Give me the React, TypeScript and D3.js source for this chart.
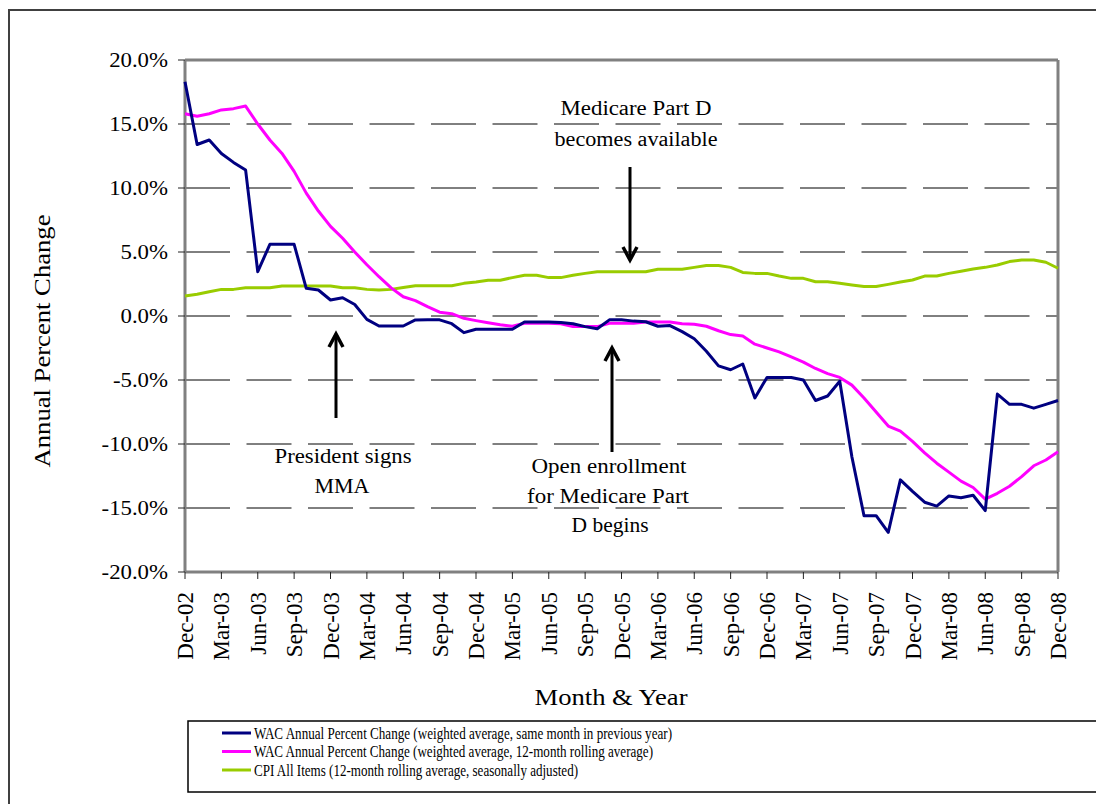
import React from "react";
import * as d3 from "d3";

const monthLabels = ["Dec-02","Mar-03","Jun-03","Sep-03","Dec-03","Mar-04","Jun-04","Sep-04","Dec-04","Mar-05","Jun-05","Sep-05","Dec-05","Mar-06","Jun-06","Sep-06","Dec-06","Mar-07","Jun-07","Sep-07","Dec-07","Mar-08","Jun-08","Sep-08","Dec-08"];

const yTicks = [20, 15, 10, 5, 0, -5, -10, -15, -20];

const wacMonthly = [18.3,13.4,13.75,12.7,12.0,11.4,3.46,5.6,5.6,5.6,2.16,2.03,1.25,1.43,0.9,-0.26,-0.78,-0.78,-0.78,-0.31,-0.3,-0.3,-0.6,-1.3,-1.04,-1.04,-1.04,-1.04,-0.47,-0.47,-0.47,-0.5,-0.6,-0.83,-1.0,-0.3,-0.3,-0.4,-0.45,-0.8,-0.75,-1.22,-1.78,-2.75,-3.9,-4.2,-3.75,-6.4,-4.8,-4.8,-4.8,-5.0,-6.6,-6.25,-5.1,-11.0,-15.6,-15.6,-16.9,-12.8,-13.7,-14.55,-14.85,-14.06,-14.2,-14.0,-15.2,-6.1,-6.9,-6.9,-7.2,-6.9,-6.6];

const wacRolling = [15.8,15.6,15.8,16.1,16.2,16.4,15.0,13.75,12.7,11.3,9.6,8.2,7.0,6.07,5.0,4.0,3.07,2.2,1.5,1.2,0.73,0.3,0.18,-0.18,-0.36,-0.52,-0.68,-0.8,-0.57,-0.57,-0.57,-0.6,-0.83,-0.83,-0.83,-0.57,-0.57,-0.57,-0.47,-0.47,-0.47,-0.6,-0.65,-0.8,-1.15,-1.45,-1.56,-2.2,-2.5,-2.8,-3.2,-3.6,-4.1,-4.5,-4.8,-5.4,-6.4,-7.5,-8.6,-9.0,-9.8,-10.7,-11.5,-12.2,-12.9,-13.4,-14.3,-13.85,-13.3,-12.55,-11.7,-11.25,-10.6];

const cpiRolling = [1.56,1.7,1.9,2.08,2.08,2.2,2.2,2.2,2.34,2.34,2.34,2.34,2.34,2.2,2.2,2.08,2.03,2.08,2.23,2.37,2.37,2.37,2.37,2.55,2.66,2.8,2.8,3.0,3.18,3.18,3.0,3.0,3.18,3.33,3.46,3.46,3.46,3.46,3.46,3.65,3.65,3.65,3.8,3.95,3.95,3.8,3.4,3.33,3.33,3.12,2.94,2.94,2.68,2.68,2.55,2.42,2.3,2.3,2.47,2.66,2.81,3.12,3.12,3.33,3.5,3.67,3.8,3.98,4.25,4.38,4.38,4.2,3.73];

const seriesNames = [
  "WAC Annual Percent Change (weighted average, same month in previous year)",
  "WAC Annual Percent Change (weighted average, 12-month rolling average)",
  "CPI All Items (12-month rolling average, seasonally adjusted)",
];
const seriesColors = ["#000080", "#FF00FF", "#99CC00"];
const legendLengths = [418, 399, 324];

const FONT = '"Liberation Serif", "Times New Roman", Times, serif';
const fs = (size: number) => ({ fontFamily: FONT, fontSize: `${size}px` });

const PL = 185, PR = 1058, PT = 60, PB = 572;

export default function App() {
  const x = d3.scaleLinear().domain([0, 72]).range([PL, PR]);
  const y = d3.scaleLinear().domain([-20, 20]).range([PB, PT]);
  const line = d3.line<number>().x((_, i) => x(i)).y((d) => y(d));
  const allSeries = [wacMonthly, wacRolling, cpiRolling];

  const arrowUp = (ax: number, top: number, bottom: number) => (
    <g>
      <line x1={ax} x2={ax} y1={bottom} y2={top + 2} stroke="#000" strokeWidth={3} />
      <polyline points={`${ax - 7},${top + 13} ${ax},${top} ${ax + 7},${top + 13}`} fill="none" stroke="#000" strokeWidth={3.5} />
    </g>
  );
  const arrowDown = (ax: number, top: number, bottom: number) => (
    <g>
      <line x1={ax} x2={ax} y1={top} y2={bottom - 2} stroke="#000" strokeWidth={3} />
      <polyline points={`${ax - 7},${bottom - 13} ${ax},${bottom} ${ax + 7},${bottom - 13}`} fill="none" stroke="#000" strokeWidth={3.5} />
    </g>
  );

  return (
    <svg width={1096} height={804} style={{ position: "absolute", left: 0, top: 0, background: "#fff", fontFamily: FONT }}>
      <rect x={0} y={0} width={1096} height={804} fill="#fff" />
      <rect x={9} y={10} width={1200} height={900} fill="none" stroke="#404040" strokeWidth={2} />

      {/* gridlines */}
      {yTicks.filter((t) => t !== 20 && t !== -20).map((t) => (
        <line key={t} x1={PL} x2={PR} y1={y(t)} y2={y(t)} stroke="#000" strokeWidth={1} strokeDasharray="45,16.5" />
      ))}

      {/* plot frame */}
      <line x1={PL} x2={PR} y1={PT} y2={PT} stroke="#808080" strokeWidth={3} />
      <line x1={PR} x2={PR} y1={PT} y2={PB} stroke="#808080" strokeWidth={3} />
      <line x1={PL} x2={PR} y1={PB} y2={PB} stroke="#808080" strokeWidth={3} />
      <line x1={PL} x2={PL} y1={PT} y2={PB} stroke="#808080" strokeWidth={3} />

      {/* y ticks */}
      {yTicks.map((t) => (
        <g key={t}>
          <line x1={PL - 7} x2={PL} y1={y(t)} y2={y(t)} stroke="#222" strokeWidth={1} />
          <text transform={`translate(168,${y(t) + 7}) scale(1.14,1)`} textAnchor="end" style={fs(20)} fill="#000">
            {`${t.toFixed(1)}%`}
          </text>
        </g>
      ))}

      {/* x ticks */}
      {monthLabels.map((m, k) => (
        <g key={m}>
          <line x1={x(k * 3)} x2={x(k * 3)} y1={PB} y2={PB + 7} stroke="#222" strokeWidth={1} />
          <text transform={`translate(${x(k * 3) + 8},592) rotate(-90)`} textAnchor="end" style={fs(23)} fill="#000">
            {m}
          </text>
        </g>
      ))}

      {/* series */}
      {allSeries.slice().reverse().map((s, ri) => {
        const i = allSeries.length - 1 - ri;
        return <path key={i} d={line(s) || ""} fill="none" stroke={seriesColors[i]} strokeWidth={3} strokeLinejoin="round" />;
      })}

      {/* annotations */}
      <text x={636} y={115} textAnchor="middle" style={fs(20)} textLength={151} lengthAdjust="spacingAndGlyphs">Medicare Part D</text>
      <text x={636} y={146} textAnchor="middle" style={fs(20)} textLength={163} lengthAdjust="spacingAndGlyphs">becomes available</text>
      {arrowDown(630, 167, 260)}

      {arrowUp(336, 334, 418)}
      <text x={343} y={463} textAnchor="middle" style={fs(20)} textLength={137} lengthAdjust="spacingAndGlyphs">President signs</text>
      <text x={342} y={493} textAnchor="middle" style={fs(20)} textLength={55} lengthAdjust="spacingAndGlyphs">MMA</text>

      {arrowUp(612, 348, 452)}
      <text x={609} y={473} textAnchor="middle" style={fs(20)} textLength={155} lengthAdjust="spacingAndGlyphs">Open enrollment</text>
      <text x={608} y={503} textAnchor="middle" style={fs(20)} textLength={162} lengthAdjust="spacingAndGlyphs">for Medicare Part</text>
      <text x={610} y={532} textAnchor="middle" style={fs(20)} textLength={77} lengthAdjust="spacingAndGlyphs">D begins</text>

      {/* axis titles */}
      <text transform="translate(50,341) rotate(-90)" textAnchor="middle" style={fs(23)} textLength={253} lengthAdjust="spacingAndGlyphs">Annual Percent Change</text>
      <text x={611} y={705} textAnchor="middle" style={fs(23)} textLength={153} lengthAdjust="spacingAndGlyphs">Month &amp; Year</text>

      {/* legend */}
      <rect x={188} y={721} width={1000} height={71} fill="#fff" stroke="#000" strokeWidth={1.5} />
      {seriesNames.map((n, i) => (
        <g key={n}>
          <line x1={222} x2={251} y1={733 + i * 18.5} y2={733 + i * 18.5} stroke={seriesColors[i]} strokeWidth={3} />
          <text x={254} y={738.5 + i * 18.5} style={fs(17)} textLength={legendLengths[i]} lengthAdjust="spacingAndGlyphs">{n}</text>
        </g>
      ))}
    </svg>
  );
}
